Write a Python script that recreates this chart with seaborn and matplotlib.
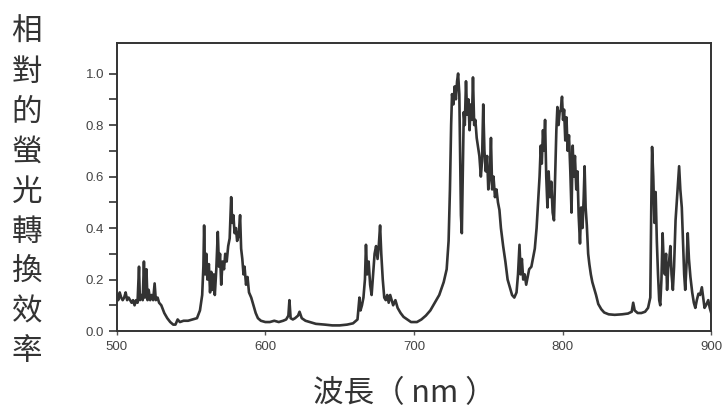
import matplotlib
matplotlib.use("Agg")
import matplotlib.pyplot as plt
import seaborn as sns
import pandas as pd

# ---- data ----
wavelength_nm = [
    500, 501, 502, 503, 504, 505, 506, 507, 508, 509, 510, 511, 512, 513, 514,
    515, 515.6, 516.5, 517.5, 518.3, 519, 520, 520.7, 521.5, 522.5, 523.5, 524.5,
    525.5, 526.3, 527.5, 528.5, 530, 532, 534, 536, 538, 539.5, 541, 542.5, 545,
    548, 551, 554, 556, 557.5, 558.3, 558.8, 559.5, 560.3, 561, 562, 562.8, 563.6,
    564.4, 565.3, 566, 567, 568, 568.8, 569.5, 570.3, 571.2, 572.2, 573, 574, 575,
    576, 577, 577.7, 578.5, 579.3, 580.2, 581, 582, 583, 583.7, 584.5, 585.3, 586,
    587, 588, 589, 590.5, 592, 593.5, 595, 597, 600, 603, 606, 609, 612, 614,
    615.5, 616.2, 617, 618.5, 620, 622, 623, 624.5, 627, 630, 634, 640, 645, 650,
    655, 659, 662, 663.3, 664, 665, 666, 667, 667.7, 668.5, 669.5, 670.5, 671.5,
    672.5, 673.5, 674.5, 675.5, 676.3, 677.2, 678, 679, 680, 681, 682, 683, 684,
    685, 686, 687.5, 689, 691, 693, 695.5, 698, 700, 702, 705, 708, 711, 714, 717,
    720, 722, 723.3, 724.2, 725, 725.6, 726.5, 727.4, 728.2, 729, 729.7, 730.5,
    731, 731.6, 732.2, 732.8, 733.5, 734.2, 735, 735.8, 736.6, 737.4, 738.2, 739,
    739.7, 740.5, 741.3, 742.2, 743, 744, 745, 745.8, 746.6, 747.4, 748.3, 749.2,
    750, 751, 751.8, 752.6, 753.5, 754.5, 755.5, 756.5, 757.5, 758.5, 760, 761.5,
    763, 764.5, 766, 767.5, 769, 770, 771, 771.8, 772.6, 773.5, 774.5, 775.5,
    776.5, 777.5, 779, 780, 781.3, 782.5, 783.5, 784.5, 785.3, 786, 786.8, 787.5,
    788.2, 789, 789.8, 790.6, 791.5, 792.4, 793.3, 794.2, 795, 795.8, 796.5, 797.3,
    798, 798.8, 799.6, 800.3, 801, 801.8, 802.6, 803.4, 804.3, 805.2, 806, 806.8,
    807.5, 808.3, 809.2, 810, 810.8, 811.7, 812.5, 813.4, 814.2, 814.8, 815.5,
    816.3, 817.2, 818, 819, 820, 821, 822.5, 824, 826, 828, 831, 835, 840, 844,
    846.5, 847.5, 848.5, 850.5, 853, 855.5, 857.5, 859, 859.7, 860.2, 861, 861.8,
    862.6, 863.4, 864.2, 865, 865.7, 866.5, 867.3, 868, 868.8, 869.6, 870.3, 871,
    871.8, 872.5, 873.3, 874.2, 875, 876, 876.8, 877.7, 878.4, 879.2, 880.2, 881,
    881.8, 882.5, 883.3, 884.2, 885, 886, 887.2, 888.3, 889.3, 890.3, 891.4, 892.5,
    893.7, 894.6, 895.5, 896.5, 898, 899, 900,
]
efficiency = [
    0.14, 0.12, 0.15, 0.13, 0.12, 0.13, 0.15, 0.12, 0.13, 0.12, 0.11, 0.12, 0.10, 0.12, 0.11,
    0.25, 0.12, 0.14, 0.12, 0.27, 0.13, 0.24, 0.12, 0.16, 0.12, 0.14, 0.12,
    0.185, 0.12, 0.13, 0.11, 0.10, 0.07, 0.05, 0.035, 0.025, 0.025, 0.045, 0.035, 0.04,
    0.04, 0.045, 0.05, 0.08, 0.14, 0.25, 0.41, 0.22, 0.30, 0.20, 0.26, 0.15, 0.23,
    0.16, 0.22, 0.14, 0.24, 0.385, 0.25, 0.30, 0.18, 0.27, 0.24, 0.30, 0.27, 0.33,
    0.36, 0.52, 0.42, 0.45, 0.38, 0.40, 0.35, 0.37, 0.45, 0.32, 0.28, 0.22, 0.25,
    0.18, 0.21, 0.15, 0.13, 0.10, 0.07, 0.05, 0.04, 0.035, 0.035, 0.04, 0.035, 0.04, 0.045,
    0.06, 0.12, 0.05, 0.045, 0.05, 0.06, 0.075, 0.05, 0.04, 0.035, 0.028, 0.025, 0.022, 0.022,
    0.025, 0.03, 0.045, 0.13, 0.08, 0.10, 0.13, 0.20, 0.335, 0.22, 0.27, 0.18, 0.14,
    0.22, 0.30, 0.33, 0.28, 0.33, 0.41, 0.30, 0.20, 0.13, 0.12, 0.14, 0.11, 0.14,
    0.12, 0.10, 0.12, 0.09, 0.07, 0.055, 0.045, 0.035, 0.035, 0.035, 0.045, 0.06, 0.08, 0.11, 0.14,
    0.19, 0.24, 0.35, 0.55, 0.80, 0.92, 0.88, 0.95, 0.90, 0.97, 1.0, 0.92,
    0.70, 0.45, 0.38, 0.60, 0.85, 0.80, 0.97, 0.84, 0.90, 0.78, 0.88, 0.82,
    0.985, 0.80, 0.82, 0.75, 0.72, 0.68, 0.60, 0.66, 0.88, 0.70, 0.62, 0.68,
    0.55, 0.60, 0.75, 0.55, 0.60, 0.52, 0.55, 0.50, 0.47, 0.40, 0.33, 0.27,
    0.20, 0.17, 0.14, 0.13, 0.15, 0.22, 0.335, 0.22, 0.28, 0.20, 0.22, 0.18,
    0.21, 0.24, 0.25, 0.28, 0.32, 0.40, 0.50, 0.60, 0.72, 0.65, 0.78, 0.70,
    0.82, 0.60, 0.48, 0.62, 0.52, 0.58, 0.46, 0.43, 0.60, 0.78, 0.87, 0.80,
    0.85, 0.86, 0.91, 0.82, 0.86, 0.74, 0.83, 0.70, 0.76, 0.62, 0.46, 0.72,
    0.60, 0.68, 0.55, 0.62, 0.45, 0.34, 0.48, 0.40, 0.52, 0.64, 0.48,
    0.41, 0.30, 0.26, 0.22, 0.19, 0.17, 0.14, 0.105, 0.085, 0.072, 0.065, 0.063, 0.065, 0.068,
    0.075, 0.11, 0.08, 0.07, 0.07, 0.075, 0.09, 0.13, 0.50, 0.715, 0.60, 0.42,
    0.54, 0.35, 0.22, 0.12, 0.10, 0.20, 0.38, 0.27, 0.22, 0.30, 0.16, 0.24,
    0.28, 0.33, 0.22, 0.16, 0.25, 0.43, 0.50, 0.58, 0.64, 0.55, 0.48, 0.35,
    0.22, 0.16, 0.25, 0.38, 0.28, 0.21, 0.15, 0.11, 0.09, 0.12, 0.145, 0.14,
    0.17, 0.13, 0.09, 0.10, 0.12, 0.09, 0.07,
]
x_ticks = [500, 600, 700, 800, 900]
x_tick_labels = ["500", "600", "700", "800", "900"]
y_ticks = [0.0, 0.2, 0.4, 0.6, 0.8, 1.0]
y_tick_labels = ["0.0", "0.2", "0.4", "0.6", "0.8", "1.0"]
y_label = "相對的螢光轉換效率"
x_label = "波長（ nm ）"

df = pd.DataFrame({"wavelength": wavelength_nm, "efficiency": efficiency})

sns.set_style("ticks")
plt.rcParams["font.family"] = ["Noto Sans CJK TC", "DejaVu Sans"]

fig = plt.figure(figsize=(7.25, 4.18), dpi=100)
ax = fig.add_axes([0.161, 0.208, 0.820, 0.690])

sns.lineplot(data=df, x="wavelength", y="efficiency", ax=ax, sort=False,
             estimator=None, color="#333333", linewidth=1.9)

ax.set_xlim(500, 900)
ax.set_ylim(0, 1.12)
ax.set_xticks(x_ticks)
ax.set_xticklabels(x_tick_labels, fontsize=9.5, color="#444444",
                   family=["Liberation Sans", "DejaVu Sans"])
ax.set_yticks(y_ticks)
ax.set_yticklabels(y_tick_labels, fontsize=9.5, color="#444444",
                   family=["Liberation Sans", "DejaVu Sans"])
ax.set_yticks([0.1, 0.3, 0.5, 0.7, 0.9], minor=True)
ax.tick_params(axis="y", which="both", direction="out", length=6, width=1.2,
               color="#333333", pad=3)
ax.tick_params(axis="x", which="major", direction="out", length=3, width=1.0,
               color="#555555", pad=4)
ax.set_xlabel("")
ax.set_ylabel("")
for side in ["left", "right", "top", "bottom"]:
    ax.spines[side].set_visible(True)
    ax.spines[side].set_color("#333333")
    ax.spines[side].set_linewidth(1.4)

fig.text(0.037, 0.54, "\n".join(y_label), fontsize=22, color="#333333",
         ha="center", va="center", linespacing=1.37,
         family=["Noto Sans CJK TC", "DejaVu Sans"])
fig.text(0.557, 0.058, x_label, fontsize=22, color="#333333",
         ha="center", va="center",
         family=["Noto Sans CJK TC", "DejaVu Sans"])

fig.savefig("out.png", dpi=100, facecolor="white")
